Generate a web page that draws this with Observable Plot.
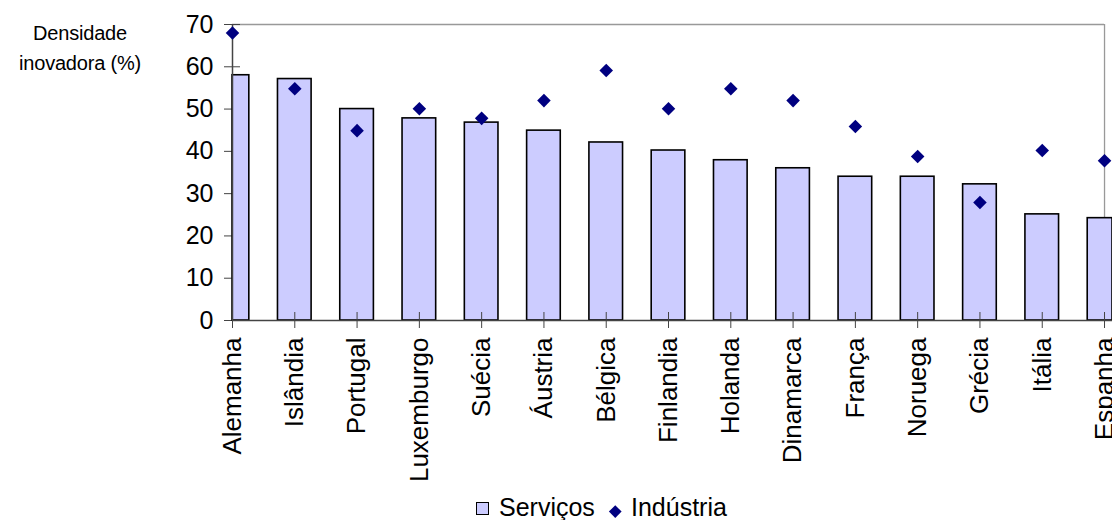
<!DOCTYPE html>
<html><head><meta charset="utf-8">
<script src="https://cdn.jsdelivr.net/npm/d3@7"></script>
<script src="https://cdn.jsdelivr.net/npm/@observablehq/plot@0.6"></script>
<style>
body{margin:0;background:#fff;font-family:"Liberation Sans",Arial,sans-serif;color:#000;}
#wrap{position:relative;width:1112px;height:520px;overflow:hidden;}
#chart{position:absolute;left:0;top:0;}
.ttl{position:absolute;width:160px;left:0;text-align:center;font-size:20px;letter-spacing:-0.2px;}
.lg{position:absolute;font-size:25px;line-height:29px;top:493px;white-space:nowrap;}
#sq{position:absolute;left:476px;top:502px;width:11px;height:11px;background:#ccccff;border:1.5px solid #000;}
#dm{position:absolute;left:611px;top:507px;width:8.5px;height:8.5px;background:#000080;transform:rotate(45deg);}
</style></head><body>
<div id="wrap">
  <div id="chart"></div>
  <div class="ttl" style="top:22px">Densidade</div>
  <div class="ttl" style="top:52px">inovadora (%)</div>
  <div id="sq"></div><div class="lg" style="left:499px">Serviços</div>
  <div id="dm"></div><div class="lg" style="left:631px">Indústria</div>
</div>
<script>
const countries = ["Alemanha","Islândia","Portugal","Luxemburgo","Suécia","Áustria","Bélgica","Finlandia","Holanda","Dinamarca","França","Noruega","Grécia","Itália","Espanha"];
const servicos  = [58, 57.1, 50, 47.8, 46.8, 44.9, 42.1, 40.2, 37.9, 36, 34, 34, 32.2, 25.1, 24.2];
const industria = [68, 54.8, 44.9, 50.1, 47.8, 52, 59.1, 50.1, 54.8, 52, 45.9, 38.8, 27.9, 40.2, 37.8];
const yTicks = [0, 10, 20, 30, 40, 50, 60, 70];

const data = countries.map((c, i) => ({i, c, s: servicos[i], ind: industria[i]}));
const last = countries.length - 1;
const half = 0.27;

const chart = Plot.plot({
  width: 1112, height: 485,
  marginLeft: 232, marginRight: 0, marginTop: 24, marginBottom: 165,
  x: {domain: [0, last + 0.128], clamp: true},
  y: {domain: [0, 70]},
  style: {fontFamily: '"Liberation Sans", Arial, sans-serif', color: "#000", background: "#fff"},
  marks: [
    Plot.ruleY([70], {x1: 0, x2: last, stroke: "#999", strokeWidth: 1.3}),
    Plot.ruleX([last], {y1: 0, y2: 70, stroke: "#999", strokeWidth: 1.3}),
    Plot.axisY({ticks: yTicks, tickSize: 16, dx: 8, tickPadding: 11, fontSize: 25, label: null, stroke: "#444"}),
    Plot.rectY(data, {x1: d => d.i - half, x2: d => d.i + half, y1: 0, y2: "s", fill: "#ccccff", stroke: "#000", strokeWidth: 1.6}),
    Plot.ruleY([0], {stroke: "#444", strokeWidth: 1.5}),
    Plot.ruleX([0], {stroke: "#444", strokeWidth: 1.5}),
    Plot.axisX({ticks: data.map(d => d.i), tickFormat: i => countries[i], tickSize: 16, dy: -8, tickPadding: 9,
      tickRotate: -90, fontSize: 26, label: null, stroke: "#444"}),
    Plot.dot(data, {x: "i", y: "ind", symbol: "diamond2", r: 6.1, fill: "#000080", stroke: "none"})
  ]
});
document.getElementById("chart").appendChild(chart);
</script>
</body></html>
